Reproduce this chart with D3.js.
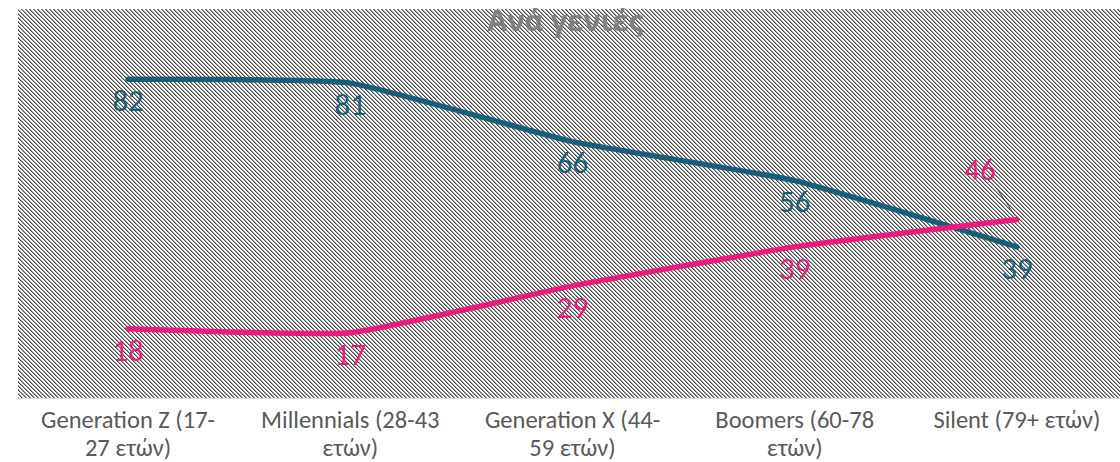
<!DOCTYPE html>
<html>
<head>
<meta charset="utf-8">
<script src="https://cdn.jsdelivr.net/npm/d3@7"></script>
<style>
  body { margin: 0; background: #fff; }
  svg { display: block; }
  text { font-family: Carlito, "Open Sans", "Noto Sans", sans-serif; }
</style>
</head>
<body>
<svg id="chart" width="1120" height="462"></svg>
<script>
// data
var categories = ["Generation Z", "Millennials", "Generation X", "Boomers", "Silent"];
var tickLabels = [
  ["Generation Z (17-", "27 ετών)"],
  ["Millennials (28-43", "ετών)"],
  ["Generation X (44-", "59 ετών)"],
  ["Boomers (60-78", "ετών)"],
  ["Silent (79+ ετών)"]
];
var tealValues = [82, 81, 66, 56, 39];
var pinkValues = [18, 17, 29, 39, 46];
var title = "Ανά γενιές";

var svg = d3.select("#chart");
var width = +svg.attr("width"), height = +svg.attr("height");

var plotLeft = 17, plotRight = 1128, plotTop = 9, plotBottom = 399;

var x = d3.scaleBand().domain(categories).range([plotLeft, plotRight]).padding(0);
var y = d3.scaleLinear().domain([0, 100]).range([plotBottom, plotTop]);
var cx = function(c) { return x(c) + x.bandwidth() / 2; };

// hatch pattern (pixel diagonal, 4px period)
var defs = svg.append("defs");
var pat = defs.append("pattern")
  .attr("id", "hatch")
  .attr("patternUnits", "userSpaceOnUse")
  .attr("width", 4).attr("height", 4);
pat.append("rect").attr("width", 4).attr("height", 4).attr("fill", "#fff");
d3.range(4).forEach(function(r) {
  [[r, "#4d4d4d"], [(r + 1) % 4, "#a0a0a0"]].forEach(function(p) {
    pat.append("rect")
      .attr("x", p[0]).attr("y", r).attr("width", 1).attr("height", 1)
      .attr("fill", p[1])
      .attr("shape-rendering", "crispEdges");
  });
});

svg.append("rect")
  .attr("x", 18).attr("y", plotTop)
  .attr("width", width - 18).attr("height", plotBottom - plotTop - 1)
  .attr("fill", "url(#hatch)");

// baseline
svg.append("line")
  .attr("x1", 18).attr("x2", width)
  .attr("y1", plotBottom - 0.5).attr("y2", plotBottom - 0.5)
  .attr("stroke", "#d9d9d9").attr("stroke-width", 1);

// title
svg.append("text")
  .attr("x", 565).attr("y", 31)
  .attr("text-anchor", "middle")
  .attr("font-size", "29px")
  .attr("font-weight", "bold")
  .style("font-family", "'Open Sans', 'Noto Sans', sans-serif")
  .attr("fill", "#808080")
  .text(title);

// x axis
var xAxis = svg.append("g")
  .attr("transform", "translate(0," + plotBottom + ")")
  .call(d3.axisBottom(x).tickSize(0).tickFormat(""));
xAxis.select(".domain").remove();
xAxis.selectAll(".tick").each(function(d, i) {
  var t = d3.select(this).append("text")
    .attr("fill", "#595959")
    .attr("font-size", "24.5px")
    .attr("text-anchor", "middle")
    .attr("y", 29);
  tickLabels[i].forEach(function(line, j) {
    t.append("tspan").attr("x", 0).attr("dy", j === 0 ? 0 : 28).text(line);
  });
});

var line = d3.line()
  .x(function(d, i) { return cx(categories[i]); })
  .y(function(d) { return y(d); })
  .curve(d3.curveCardinal.tension(0.6));

var series = [
  { values: tealValues, color: "#175e7a" },
  { values: pinkValues, color: "#ea1b7d" }
];

series.forEach(function(s) {
  svg.append("path")
    .datum(s.values)
    .attr("d", line)
    .attr("fill", "none")
    .attr("stroke", s.color)
    .attr("stroke-width", 5.5)
    .attr("stroke-linecap", "round");
});

// data labels
series.forEach(function(s, si) {
  s.values.forEach(function(v, i) {
    var px = cx(categories[i]), py = y(v);
    var lx = px, ly = py + 21;
    if (si === 1 && i === 4) {
      lx = px - 37; ly = py - 50;
      svg.append("line")
        .attr("x1", px - 20).attr("y1", py - 31)
        .attr("x2", px - 2).attr("y2", py - 4)
        .attr("stroke", "#404040").attr("stroke-width", 1);
    }
    svg.append("text")
      .attr("x", lx).attr("y", ly)
      .attr("dy", "0.35em")
      .attr("text-anchor", "middle")
      .attr("font-size", "31px")
      .attr("fill", s.color)
      .text(v);
  });
});
</script>
</body>
</html>
